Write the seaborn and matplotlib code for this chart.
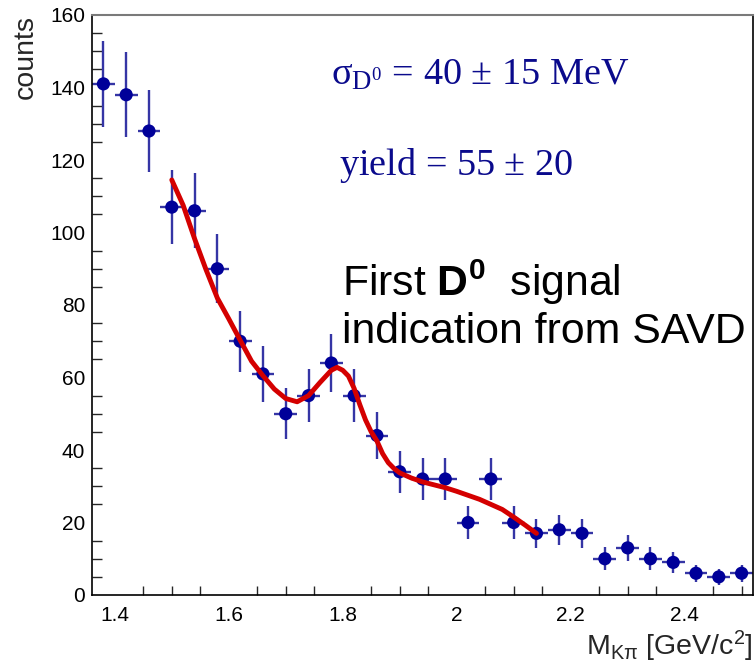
import numpy as np
import pandas as pd
import matplotlib
matplotlib.use("Agg")
import matplotlib.pyplot as plt
import seaborn as sns
from matplotlib.ticker import MultipleLocator

# ---------------- data ----------------
mass = [1.38, 1.42, 1.46, 1.50, 1.54, 1.58, 1.62, 1.66, 1.70, 1.74,
        1.78, 1.82, 1.86, 1.90, 1.94, 1.98, 2.02, 2.06, 2.10, 2.14,
        2.18, 2.22, 2.26, 2.30, 2.34, 2.38, 2.42, 2.46, 2.50]
counts = [141, 138, 128, 107, 106, 90, 70, 61, 50, 55,
          64, 55, 44, 34, 32, 32, 20, 32, 20, 17,
          18, 17, 10, 13, 10, 9, 6, 5, 6]
count_err = [11.9, 11.7, 11.3, 10.3, 10.3, 9.5, 8.4, 7.8, 7.1, 7.4,
             8.0, 7.4, 6.6, 5.8, 5.7, 5.7, 4.5, 5.7, 4.5, 4.1,
             4.2, 4.1, 3.2, 3.6, 3.2, 3.0, 2.4, 2.2, 2.4]
bin_half_width = 0.02

fit_mass = [1.50, 1.52, 1.54, 1.56, 1.58, 1.60, 1.62, 1.64, 1.66, 1.68,
            1.70, 1.72, 1.74, 1.76, 1.78, 1.79, 1.80, 1.81, 1.82, 1.83,
            1.84, 1.85, 1.86, 1.87, 1.88, 1.89, 1.90, 1.92, 1.94, 1.96,
            1.98, 2.00, 2.02, 2.04, 2.06, 2.08, 2.10, 2.12, 2.14]
fit_counts = [114.5, 107.5, 98.3, 89.8, 81.9, 76.2, 70.3, 64.5, 60.5, 56.8,
              54.2, 53.3, 55.0, 58.6, 62.0, 62.8, 62.0, 60.4, 57.0, 52.5,
              48.3, 45.0, 42.5, 39.0, 36.5, 34.9, 33.7, 32.3, 31.2, 30.4,
              29.6, 28.6, 27.5, 26.4, 25.0, 23.6, 21.5, 19.3, 17.0]

x_ticks = [1.4, 1.6, 1.8, 2.0, 2.2, 2.4]
x_tick_labels = ["1.4", "1.6", "1.8", "2", "2.2", "2.4"]
y_ticks = [0, 20, 40, 60, 80, 100, 120, 140, 160]

df = pd.DataFrame({"mass": mass, "counts": counts, "err": count_err})
fit_df = pd.DataFrame({"mass": fit_mass, "counts": fit_counts})

# ---------------- style ----------------
sns.set_style("white")
plt.rcParams["font.family"] = ["Liberation Sans", "DejaVu Sans"]
plt.rcParams["mathtext.fontset"] = "custom"
plt.rcParams["mathtext.rm"] = "Liberation Sans"
plt.rcParams["mathtext.it"] = "Liberation Sans:italic"
plt.rcParams["mathtext.bf"] = "Liberation Sans:bold"
plt.rcParams["mathtext.default"] = "regular"

W, H = 756, 664
fig = plt.figure(figsize=(W / 100, H / 100), dpi=100)
L, R, T, B = 92, 753, 15, 595
ax = fig.add_axes([L / W, 1 - B / H, (R - L) / W, (B - T) / H])

marker_color = "#000099"
err_color = "#3535a5"

ax.errorbar(df["mass"], df["counts"], yerr=df["err"], xerr=bin_half_width,
            fmt="none", ecolor=err_color, elinewidth=1.7, capsize=0, zorder=2)
sns.scatterplot(data=df, x="mass", y="counts", ax=ax, color=marker_color,
                s=90, edgecolor="none", linewidth=0, zorder=3, legend=False)
sns.lineplot(data=fit_df, x="mass", y="counts", ax=ax, color="#d40000",
             linewidth=3.5, estimator=None, sort=False, zorder=4, legend=False)

ax.set_xlim(1.36, 2.52)
ax.set_ylim(0, 160)

ax.set_xticks(x_ticks)
ax.set_xticklabels(x_tick_labels)
ax.set_yticks(y_ticks)
ax.xaxis.set_minor_locator(MultipleLocator(0.05))
ax.yaxis.set_minor_locator(MultipleLocator(5))
ax.tick_params(axis="both", which="major", direction="in", labelsize=15,
               colors="black", width=1.2, top=False, right=False)
ax.tick_params(axis="x", which="major", length=13, pad=8)
ax.tick_params(axis="y", which="major", length=14.5, pad=5)
ax.tick_params(axis="x", which="minor", direction="in", length=6.5,
               width=1.0, top=False, bottom=True)
ax.tick_params(axis="y", which="minor", direction="in", length=7,
               width=1.0, left=True, right=False)

for side in ["left", "bottom", "right"]:
    ax.spines[side].set_color("black")
    ax.spines[side].set_linewidth(1.2)
ax.spines["top"].set_color("#7a7a7a")
ax.spines["top"].set_linewidth(1.5)

ax.set_ylabel("counts", fontsize=20.5, loc="top")
ax.yaxis.set_label_coords(-0.081, 1.0)
ax.set_xlabel(r"$M_{K\pi}$ [GeV/c$^{2}$]", fontsize=20.5, loc="right")
ax.xaxis.set_label_coords(1.0, -0.058)

text_blue = "#0a0a8c"
ax.text(1.780, 140.7, r"$\sigma_{D^{0}}$ = 40 $\pm$ 15 MeV",
        family="Liberation Serif", fontsize=27.5, color=text_blue,
        va="baseline", ha="left")
ax.text(1.794, 115.9, r"yield = 55 $\pm$ 20",
        family="Liberation Serif", fontsize=27.5, color=text_blue,
        va="baseline", ha="left")

ax.text(1.798, 82.5, r"First $\mathbf{D^{0}}$  signal",
        fontsize=30.8, color="black", va="baseline", ha="left")
ax.text(1.798, 69.5, "indication from SAVD",
        fontsize=30.8, color="black", va="baseline", ha="left")

fig.savefig("out.png", dpi=100)
